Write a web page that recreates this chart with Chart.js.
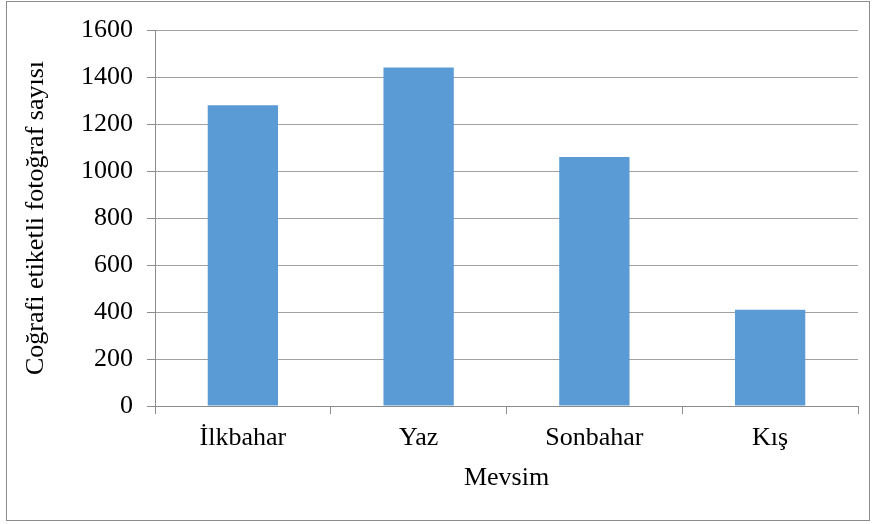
<!DOCTYPE html>
<html>
<head>
<meta charset="utf-8">
<script src="https://cdn.jsdelivr.net/npm/chart.js@4"></script>
<style>
  html, body { margin: 0; padding: 0; background: #fff; }
  #wrap { position: relative; width: 877px; height: 524px; }
  #frame {
    position: absolute; left: 6px; top: 1px; width: 864px; height: 520px;
    border: 1px solid #8c8c8c; box-sizing: border-box;
  }
  canvas { position: absolute; left: 0; top: 0; }
</style>
</head>
<body>
<div id="wrap">
  <div id="frame"></div>
  <canvas id="chart"></canvas>
</div>
<script>
// Seasons and geotagged photo counts
const seasons = ["İlkbahar", "Yaz", "Sonbahar", "Kış"];
const photoCounts = [1280, 1440, 1060, 410];
const yTicks = [0, 200, 400, 600, 800, 1000, 1200, 1400, 1600];

const serif = "'Liberation Serif', 'Times New Roman', serif";
const textFont = { family: serif, size: 26 };

new Chart(document.getElementById("chart").getContext("2d"), {
  type: "bar",
  data: {
    labels: seasons,
    datasets: [{
      data: photoCounts,
      backgroundColor: "#5B9BD5",
      borderWidth: 0,
      categoryPercentage: 1.0,
      barPercentage: 0.4,
    }],
  },
  options: {
    responsive: true,
    maintainAspectRatio: false,
    animation: false,
    layout: { padding: { top: 30, right: 19, bottom: 0, left: 0 } },
    plugins: { legend: { display: false }, tooltip: { enabled: false } },
    scales: {
      x: {
        afterFit: (s) => { s.height = 118; },
        grid: {
          offset: true,
          drawOnChartArea: false,
          tickLength: 8,
          color: "#8c8c8c",
        },
        border: { color: "#8c8c8c", width: 1 },
        ticks: { color: "#000", padding: 9, font: textFont },
        title: {
          display: true,
          text: "Mevsim",
          color: "#000",
          font: textFont,
          padding: { top: 0, bottom: 30 },
        },
      },
      y: {
        min: 0,
        max: 1600,
        afterFit: (s) => { s.width = 155; },
        afterBuildTicks: (s) => { s.ticks = yTicks.map((v) => ({ value: v })); },
        grid: {
          color: "#a0a0a0",
          tickLength: 8,
          tickColor: "#8c8c8c",
        },
        border: { color: "#8c8c8c", width: 1 },
        ticks: {
          color: "#000",
          padding: 14,
          font: textFont,
          callback: (v) => String(v),  // no thousands separator
        },
        title: {
          display: true,
          text: "Coğrafi etiketli fotoğraf sayısı",
          color: "#000",
          font: textFont,
          padding: { top: 21, bottom: 0 },
        },
      },
    },
  },
});
</script>
</body>
</html>
